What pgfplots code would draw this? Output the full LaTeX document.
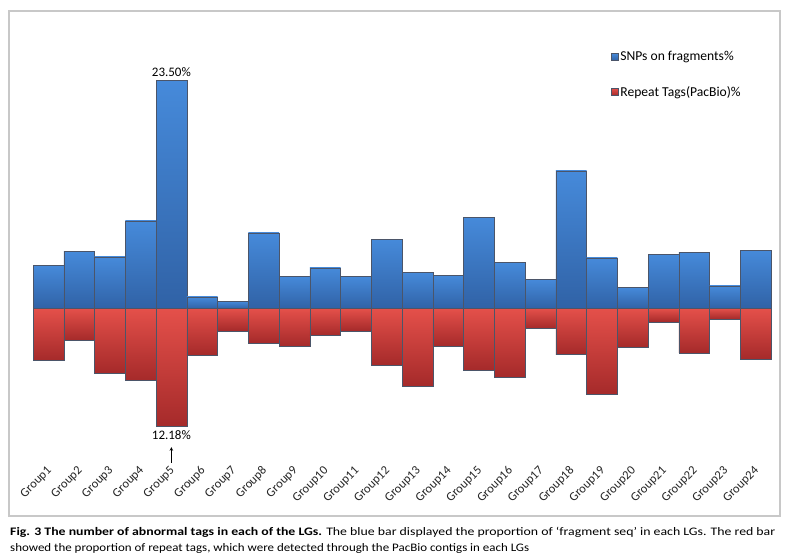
\documentclass[border=0pt]{standalone}
\usepackage{fontspec}
\setmainfont{Carlito}
\usepackage{graphicx}
\usepackage{pgfplots}
\pgfplotsset{compat=1.18}
\definecolor{bluetop}{RGB}{70,138,218}
\definecolor{bluebot}{RGB}{48,98,166}
\definecolor{redtop}{RGB}{228,80,74}
\definecolor{redbot}{RGB}{165,42,42}
\definecolor{edgec}{RGB}{75,85,105}
\definecolor{framec}{RGB}{200,200,200}
\pgfplotsset{
  bb/.style={ybar, bar width=1, bar shift=0pt, top color=bluetop, bottom color=bluebot, draw=edgec, line width=0.4pt, forget plot},
  rb/.style={ybar, bar width=1, bar shift=0pt, top color=redtop, bottom color=redbot, draw=edgec, line width=0.4pt, forget plot},
}
\begin{document}
\begin{tikzpicture}
\path[use as bounding box] (0pt,0pt) rectangle (789pt,559pt);
\fill[white] (0pt,0pt) rectangle (789pt,559pt);
\draw[framec, line width=1.2pt] (9pt,43pt) rectangle (780pt,548pt);
\begin{axis}[
  at={(33pt,93pt)}, anchor=south west,
  scale only axis, width=738pt, height=385.3pt,
  xmin=0.5, xmax=24.5, ymin=-16.24, ymax=23.5,
  clip=false,
  axis line style={draw=none},
  ytick=\empty,
  xtick={1,...,24},
  xticklabels={Group1,Group2,Group3,Group4,Group5,Group6,Group7,Group8,Group9,Group10,Group11,Group12,Group13,Group14,Group15,Group16,Group17,Group18,Group19,Group20,Group21,Group22,Group23,Group24},
  xtick style={draw=none},
  xticklabel style={rotate=45, anchor=east, inner sep=1pt, yshift=-3pt, font=\fontsize{12.5}{14}\selectfont, text=black!85},
  legend style={at={(0.783,1.082)}, anchor=north west, draw=none, fill=none,
    inner sep=0pt, row sep=20pt, font=\fontsize{13.6}{16}\selectfont,
    legend cell align=left},
  legend image code/.code={\draw[#1, line width=0.3pt] (0pt,-3.5pt) rectangle (7pt,3.5pt);},
]
\addplot[bb] coordinates {(1,4.47)};
\addplot[bb] coordinates {(2,5.90)};
\addplot[bb] coordinates {(3,5.32)};
\addplot[bb] coordinates {(4,9.03)};
\addplot[bb] coordinates {(5,23.50)};
\addplot[bb] coordinates {(6,1.20)};
\addplot[bb] coordinates {(7,0.75)};
\addplot[bb] coordinates {(8,7.80)};
\addplot[bb] coordinates {(9,3.33)};
\addplot[bb] coordinates {(10,4.19)};
\addplot[bb] coordinates {(11,3.33)};
\addplot[bb] coordinates {(12,7.15)};
\addplot[bb] coordinates {(13,3.71)};
\addplot[bb] coordinates {(14,3.44)};
\addplot[bb] coordinates {(15,9.42)};
\addplot[bb] coordinates {(16,4.74)};
\addplot[bb] coordinates {(17,3.03)};
\addplot[bb] coordinates {(18,14.20)};
\addplot[bb] coordinates {(19,5.23)};
\addplot[bb] coordinates {(20,2.17)};
\addplot[bb] coordinates {(21,5.59)};
\addplot[bb] coordinates {(22,5.80)};
\addplot[bb] coordinates {(23,2.35)};
\addplot[bb] coordinates {(24,6.03)};
\addplot[rb] coordinates {(1,-5.33)};
\addplot[rb] coordinates {(2,-3.27)};
\addplot[rb] coordinates {(3,-6.64)};
\addplot[rb] coordinates {(4,-7.40)};
\addplot[rb] coordinates {(5,-12.18)};
\addplot[rb] coordinates {(6,-4.80)};
\addplot[rb] coordinates {(7,-2.30)};
\addplot[rb] coordinates {(8,-3.55)};
\addplot[rb] coordinates {(9,-3.86)};
\addplot[rb] coordinates {(10,-2.79)};
\addplot[rb] coordinates {(11,-2.30)};
\addplot[rb] coordinates {(12,-5.80)};
\addplot[rb] coordinates {(13,-7.96)};
\addplot[rb] coordinates {(14,-3.87)};
\addplot[rb] coordinates {(15,-6.34)};
\addplot[rb] coordinates {(16,-7.03)};
\addplot[rb] coordinates {(17,-2.04)};
\addplot[rb] coordinates {(18,-4.69)};
\addplot[rb] coordinates {(19,-8.85)};
\addplot[rb] coordinates {(20,-3.94)};
\addplot[rb] coordinates {(21,-1.36)};
\addplot[rb] coordinates {(22,-4.56)};
\addplot[rb] coordinates {(23,-1.08)};
\addplot[rb] coordinates {(24,-5.24)};
\addlegendimage{top color=bluetop, bottom color=bluebot, draw=edgec}
\addlegendentry{SNPs on fragments\%}
\addlegendimage{top color=redtop, bottom color=redbot, draw=edgec}
\addlegendentry{Repeat Tags(PacBio)\%}
\node[anchor=south, inner sep=4pt, font=\fontsize{13}{15}\selectfont] at (axis cs:5,23.5) {23.50\%};
\node[anchor=north, inner sep=4pt, font=\fontsize{13}{15}\selectfont] at (axis cs:5,-12.18) {12.18\%};
\draw[->, >=stealth, line width=0.6pt] (axis cs:5,-15.9) -- (axis cs:5,-14.3);
\end{axis}
\node[anchor=base west, inner sep=0pt] at (10pt,23.5pt) {\resizebox{765pt}{\height}{\fontsize{11.5}{13}\selectfont\textbf{Fig. 3 The number of abnormal tags in each of the LGs.} The blue bar displayed the proportion of ‘fragment seq’ in each LGs. The red bar}};
\node[anchor=base west, inner sep=0pt] at (10pt,7pt) {\resizebox{519pt}{\height}{\fontsize{11.5}{13}\selectfont showed the proportion of repeat tags, which were detected through the PacBio contigs in each LGs}};
\end{tikzpicture}
\end{document}
